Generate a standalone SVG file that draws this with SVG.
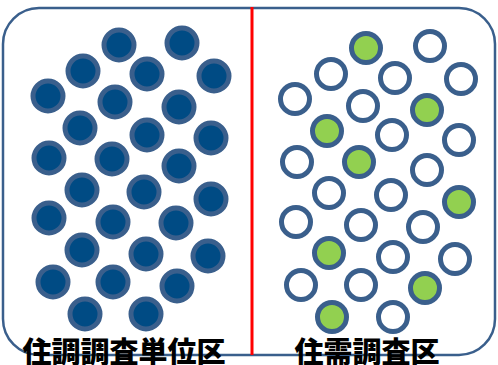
<svg xmlns="http://www.w3.org/2000/svg" width="498" height="365" viewBox="0 0 498 365">
<style>
.d{fill:#004b84;stroke:#3a5f8c;stroke-width:5}
.w{fill:#ffffff;stroke:#3a5f8c;stroke-width:5}
.g{fill:#92d050;stroke:#3a5f8c;stroke-width:5}
.t{font-family:"Noto Sans CJK JP","Noto Sans CJK SC",sans-serif;font-weight:900;font-size:29px;fill:#000;text-anchor:middle}
</style>
<rect x="3" y="8" width="492" height="347" rx="36" ry="36" fill="#fff" stroke="#3a5f8c" stroke-width="2.5"/>
<g id="connectors">
<line x1="252" y1="7" x2="252" y2="355" stroke="#ff0000" stroke-width="3"/>
</g>
<g id="left-panel">
<circle class="d" cx="119" cy="45" r="15"/>
<circle class="d" cx="182" cy="43" r="15"/>
<circle class="d" cx="83" cy="71" r="15"/>
<circle class="d" cx="147" cy="74" r="15"/>
<circle class="d" cx="214" cy="76" r="15"/>
<circle class="d" cx="48" cy="96" r="15"/>
<circle class="d" cx="115" cy="102" r="15"/>
<circle class="d" cx="179" cy="107" r="15"/>
<circle class="d" cx="80" cy="128" r="15"/>
<circle class="d" cx="147" cy="135" r="15"/>
<circle class="d" cx="211" cy="138" r="15"/>
<circle class="d" cx="49" cy="158" r="15"/>
<circle class="d" cx="112" cy="159" r="15"/>
<circle class="d" cx="179" cy="166" r="15"/>
<circle class="d" cx="82" cy="190" r="15"/>
<circle class="d" cx="144" cy="192" r="15"/>
<circle class="d" cx="211" cy="199" r="15"/>
<circle class="d" cx="49" cy="218" r="15"/>
<circle class="d" cx="113" cy="222" r="15"/>
<circle class="d" cx="176" cy="223" r="15"/>
<circle class="d" cx="82" cy="250" r="15"/>
<circle class="d" cx="146" cy="254" r="15"/>
<circle class="d" cx="208" cy="256" r="15"/>
<circle class="d" cx="53" cy="282" r="15"/>
<circle class="d" cx="113" cy="282" r="15"/>
<circle class="d" cx="177" cy="286" r="15"/>
<circle class="d" cx="85" cy="314" r="15"/>
<circle class="d" cx="146" cy="314" r="15"/>
</g>
<g id="right-panel">
<circle class="g" cx="366" cy="48" r="14.5"/>
<circle class="w" cx="430" cy="46" r="14.5"/>
<circle class="w" cx="331" cy="74" r="14.5"/>
<circle class="w" cx="395" cy="78" r="14.5"/>
<circle class="w" cx="461" cy="79" r="14.5"/>
<circle class="w" cx="295" cy="99" r="14.5"/>
<circle class="w" cx="363" cy="106" r="14.5"/>
<circle class="g" cx="427" cy="110" r="14.5"/>
<circle class="g" cx="327" cy="131" r="14.5"/>
<circle class="w" cx="392" cy="135" r="14.5"/>
<circle class="w" cx="459" cy="140" r="14.5"/>
<circle class="w" cx="297" cy="162" r="14.5"/>
<circle class="g" cx="359" cy="162" r="14.5"/>
<circle class="w" cx="427" cy="170" r="14.5"/>
<circle class="w" cx="329" cy="193" r="14.5"/>
<circle class="w" cx="391" cy="195" r="14.5"/>
<circle class="g" cx="459" cy="202" r="14.5"/>
<circle class="w" cx="296" cy="222" r="14.5"/>
<circle class="w" cx="361" cy="225" r="14.5"/>
<circle class="w" cx="423" cy="227" r="14.5"/>
<circle class="g" cx="329" cy="253" r="14.5"/>
<circle class="w" cx="393" cy="257" r="14.5"/>
<circle class="w" cx="455" cy="259" r="14.5"/>
<circle class="w" cx="301" cy="285" r="14.5"/>
<circle class="w" cx="361" cy="285" r="14.5"/>
<circle class="g" cx="425" cy="288" r="14.5"/>
<circle class="g" cx="332" cy="317" r="14.5"/>
<circle class="w" cx="393" cy="317" r="14.5"/>
</g>
<g id="label-left"><text class="t" x="124" y="363">住調調査単位区</text></g>
<g id="label-right"><text class="t" x="367" y="363">住需調査区</text></g>
</svg>
